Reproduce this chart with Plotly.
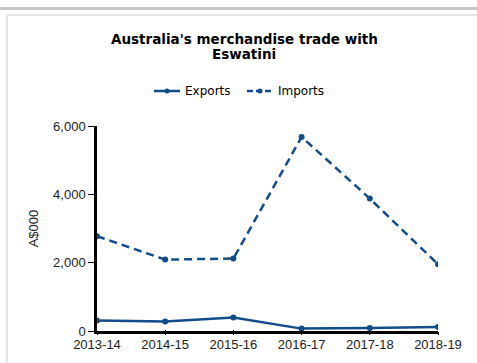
import plotly.graph_objects as go

# Financial years and trade values (A$000)
years = ["2013-14", "2014-15", "2015-16", "2016-17", "2017-18", "2018-19"]
exports = [305, 275, 392, 70, 88, 117]
imports = [2775, 2090, 2120, 5680, 3877, 1953]

y_ticks = [0, 2000, 4000, 6000]
y_tick_labels = ["0", "2,000", "4,000", "6,000"]

W, H = 477, 363
L, R, T, B = 97, 39, 126, 32
PW, PH = W - L - R, H - T - B
BLUE = "#124c8b"
TICK_FONT = dict(family="Liberation Sans, Arial", size=13, color="#222222")


def px(x):
    return (x - L) / PW


def py(y):
    return (H - B - y) / PH


fig = go.Figure()
fig.add_trace(go.Scatter(
    x=years, y=exports, name="Exports", mode="lines+markers",
    line=dict(color=BLUE, width=2.5), marker=dict(size=6, color=BLUE),
))
fig.add_trace(go.Scatter(
    x=years, y=imports, name="Imports", mode="lines+markers",
    line=dict(color=BLUE, width=2.5, dash="8px,5px"), marker=dict(size=6, color=BLUE),
))

shapes = []
# panel frame decorations
shapes.append(dict(type="rect", xref="paper", yref="paper", x0=px(0), x1=px(W),
                   y0=py(10), y1=py(7), fillcolor="#c6c6c6", line=dict(width=0), layer="below"))
shapes.append(dict(type="rect", xref="paper", yref="paper", x0=px(6), x1=px(W),
                   y0=py(16), y1=py(14), fillcolor="#e4e4e4", line=dict(width=0), layer="below"))
shapes.append(dict(type="rect", xref="paper", yref="paper", x0=px(6), x1=px(8),
                   y0=py(H), y1=py(14), fillcolor="#e4e4e4", line=dict(width=0), layer="below"))

# legend keys
annotations = []
legend_items = [("Exports", 154, "solid"), ("Imports", 247, "dash")]
ly = 91
for label, x0, dash in legend_items:
    shapes.append(dict(type="line", xref="paper", yref="paper", x0=px(x0), x1=px(x0 + 26),
                       y0=py(ly), y1=py(ly), line=dict(color=BLUE, width=2.5,
                                                       dash="solid" if dash == "solid" else "6px,3px")))
    cx = x0 + 13
    shapes.append(dict(type="circle", xref="paper", yref="paper", x0=px(cx - 2.5), x1=px(cx + 2.5),
                       y0=py(ly + 2.5), y1=py(ly - 2.5), fillcolor=BLUE, line=dict(width=0)))
    annotations.append(dict(text=label, xref="paper", yref="paper", x=px(x0 + 29), y=py(ly),
                            xanchor="left", yanchor="middle", showarrow=False,
                            font=dict(family="DejaVu Sans", size=12, color="#000000")))

# two-line title
annotations.append(dict(text="<b>Australia's merchandise trade with</b>", xref="paper", yref="paper",
                        x=px(244), y=py(39), xanchor="center", yanchor="middle", showarrow=False,
                        font=dict(family="DejaVu Sans", size=13.5, color="#000000")))
annotations.append(dict(text="<b>Eswatini</b>", xref="paper", yref="paper",
                        x=px(244), y=py(54), xanchor="center", yanchor="middle", showarrow=False,
                        font=dict(family="DejaVu Sans", size=13.5, color="#000000")))

fig.update_layout(
    width=W, height=H,
    margin=dict(l=L, r=R, t=T, b=B, autoexpand=False),
    paper_bgcolor="white", plot_bgcolor="white",
    showlegend=False,
    shapes=shapes,
    annotations=annotations,
    xaxis=dict(
        type="category", range=[0, len(years) - 1], showgrid=False, zeroline=False,
        automargin=False,
        showline=True, linecolor="#000000", linewidth=2.5,
        ticks="inside", ticklen=1, tickcolor="#000000", tickwidth=1,
        tickfont=TICK_FONT,
    ),
    # companion axis carrying only the short category tick stubs
    xaxis2=dict(
        type="category", range=[0, len(years) - 1], overlaying="x", anchor="y", side="bottom",
        matches="x", showgrid=False, zeroline=False, automargin=False, showline=False,
        ticks="outside", ticklen=3, tickcolor="#000000", tickwidth=1,
        showticklabels=False,
    ),
    yaxis=dict(
        range=[0, 6000], showgrid=False, zeroline=False,
        automargin=False,
        showline=True, linecolor="#000000", linewidth=2.5,
        ticks="outside", ticklen=6, tickcolor="#000000", tickwidth=1,
        tickvals=y_ticks, ticktext=y_tick_labels,
        tickfont=TICK_FONT,
        title=dict(text="A$000", standoff=12, font=TICK_FONT),
    ),
)
# keep the stub axis populated with the same categories
fig.add_trace(go.Scatter(x=years, y=[None] * len(years), xaxis="x2", yaxis="y",
                         showlegend=False, hoverinfo="skip"))

fig.write_html("out.html")
